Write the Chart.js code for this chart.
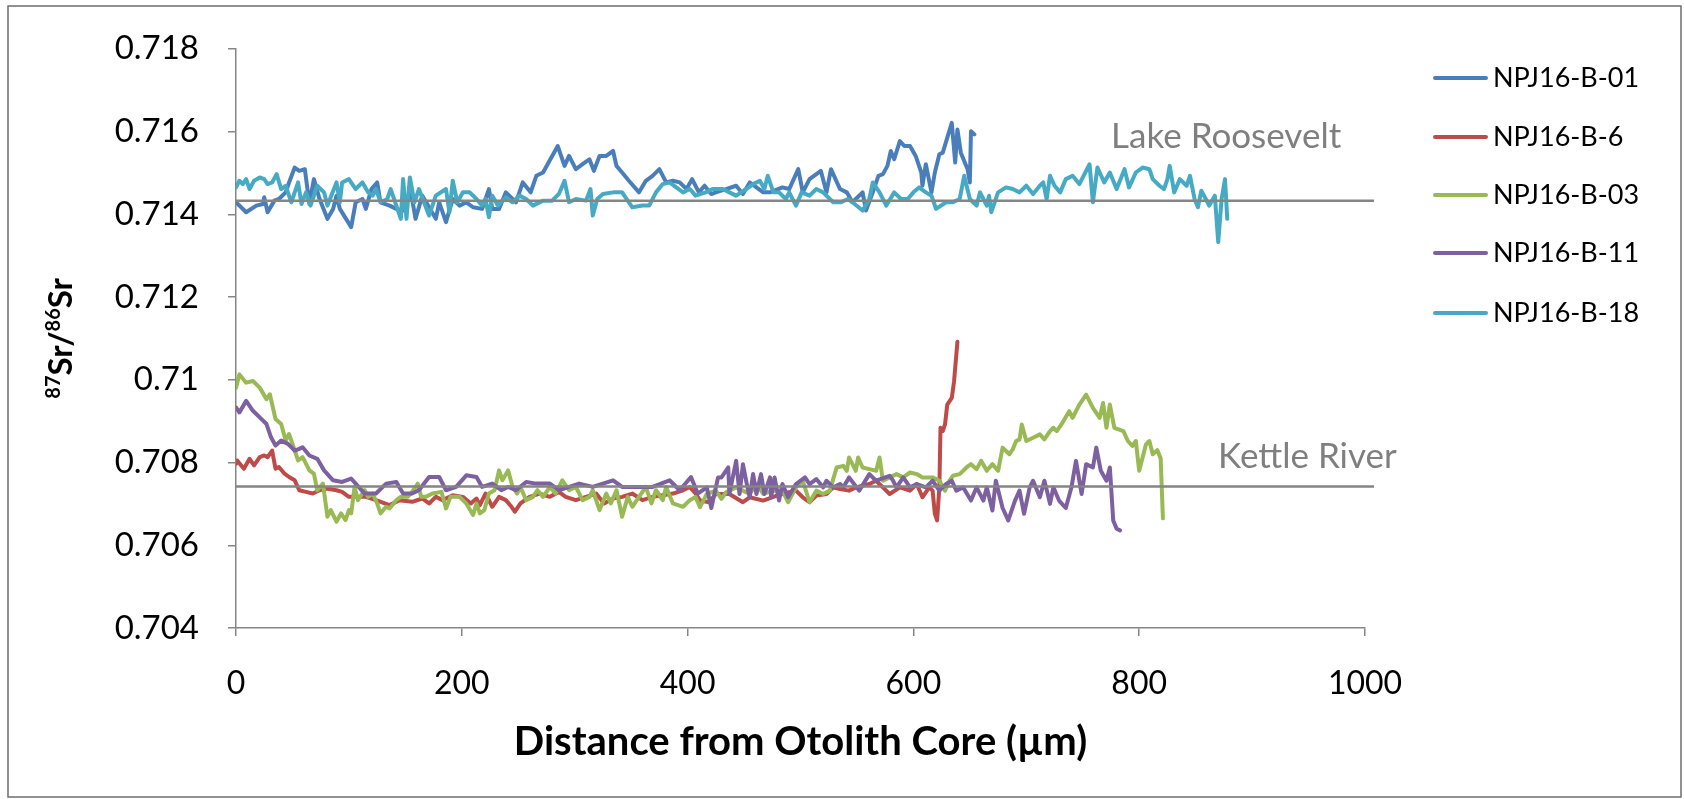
<!DOCTYPE html>
<html>
<head>
<meta charset="utf-8">
<script src="https://cdn.jsdelivr.net/npm/chart.js@4.4.0/dist/chart.umd.min.js"></script>
<style>
  body { margin: 0; background: #fff; }
  canvas { display: block; }
</style>
</head>
<body>
<canvas id="chart" width="1684" height="799"></canvas>
<script>
// series names (legend order)
const names = ["NPJ16-B-01", "NPJ16-B-6", "NPJ16-B-03", "NPJ16-B-11", "NPJ16-B-18"];

// NPJ16-B-01
const b01X = [0,9,18,24,25,28,34,38,44,47,52,56,61,65,69,74,81,86,89,92,102,106,112,115,120,125,128,136,142,148,155,159,165,171,177,180,186,192,198,204,210,218,224,227,233,239,248,254,261,266,272,276,285,291,295,301,307,313,317,322,328,334,337,342,348,357,363,369,375,381,387,393,399,404,410,415,421,425,434,443,449,455,467,473,484,490,498,502,508,518,523,527,535,541,546,555,558,564,569,573,577,580,583,588,592,597,602,607,608,611,616,619,623,626,634,637,639,642,648,650,651,654];
const b01Y = [0.71429,0.71405,0.71421,0.71425,0.71441,0.71405,0.71433,0.71437,0.71453,0.71477,0.71513,0.71505,0.71509,0.71425,0.71485,0.71437,0.71389,0.71413,0.71445,0.71413,0.71369,0.71429,0.71437,0.71413,0.71461,0.71477,0.71429,0.71421,0.71413,0.71409,0.71453,0.71389,0.71445,0.71417,0.71389,0.71429,0.71381,0.71437,0.71421,0.71429,0.71417,0.71413,0.71461,0.71413,0.71413,0.71453,0.71429,0.71477,0.71453,0.71493,0.71501,0.71521,0.71565,0.71517,0.71541,0.71509,0.71521,0.71533,0.71505,0.71541,0.71541,0.71553,0.71517,0.71501,0.71481,0.71453,0.71481,0.71493,0.71509,0.71477,0.71481,0.71477,0.71461,0.71485,0.71453,0.71469,0.71449,0.71453,0.71461,0.71469,0.71449,0.71477,0.71453,0.71453,0.71465,0.71461,0.71509,0.71453,0.71485,0.71505,0.71453,0.71509,0.71461,0.71453,0.71429,0.71453,0.71409,0.71453,0.71493,0.71497,0.71517,0.71553,0.71533,0.71577,0.71565,0.71565,0.71541,0.71501,0.71469,0.71521,0.71453,0.71501,0.71545,0.71549,0.71621,0.71525,0.71605,0.71549,0.71509,0.71477,0.71601,0.71593];

// NPJ16-B-6
const b06X = [0,1,7,12,16,21,25,28,32,35,38,43,47,52,56,62,68,74,80,89,94,100,109,115,124,136,145,156,165,171,177,183,192,201,208,213,216,221,227,233,239,244,247,252,260,269,278,286,292,301,310,319,326,334,342,351,360,369,378,387,396,402,407,411,419,425,437,449,455,467,479,490,496,502,508,514,523,529,535,543,549,561,567,573,579,588,597,603,608,614,617,619,621,623,624,626,628,630,634,636,639];
const b06Y = [0.70797,0.70805,0.70785,0.70809,0.70793,0.70813,0.70817,0.70813,0.70829,0.70785,0.70789,0.70773,0.70765,0.70757,0.70733,0.70729,0.70725,0.70733,0.70737,0.70733,0.70729,0.70717,0.70717,0.70717,0.70709,0.70697,0.70709,0.70705,0.70713,0.70701,0.70717,0.70709,0.70721,0.70717,0.70701,0.70713,0.70697,0.70725,0.70693,0.70717,0.70709,0.70693,0.70681,0.70701,0.70717,0.70725,0.70717,0.70729,0.70717,0.70709,0.70717,0.70725,0.70701,0.70713,0.70717,0.70725,0.70709,0.70717,0.70721,0.70725,0.70733,0.70741,0.70725,0.70708,0.70704,0.70724,0.70724,0.70704,0.70716,0.70708,0.7072,0.70728,0.70732,0.70716,0.70704,0.7072,0.70724,0.7074,0.70736,0.70732,0.7074,0.70748,0.70756,0.7074,0.70724,0.7074,0.70732,0.70748,0.70716,0.7074,0.70732,0.70676,0.7066,0.7074,0.70884,0.70876,0.70892,0.7094,0.70956,0.70996,0.71092];

// NPJ16-B-03
const b03X = [0,3,9,15,21,27,30,35,40,44,47,52,55,59,65,69,72,77,81,84,89,93,97,100,102,105,108,114,117,121,125,128,133,136,142,146,152,156,161,164,168,174,182,186,190,198,201,204,210,213,216,220,224,229,233,236,241,245,249,252,257,263,267,272,278,283,289,295,301,307,313,316,322,328,332,337,342,347,351,357,363,368,372,378,381,387,396,402,407,411,417,425,430,434,443,449,455,461,467,476,484,489,496,502,508,514,520,526,532,538,541,543,546,549,551,555,561,567,570,573,579,585,591,597,603,608,617,623,628,632,635,641,647,651,656,660,665,670,675,679,685,688,691,694,696,700,706,712,716,721,724,727,732,738,741,747,753,759,765,768,771,774,778,786,790,794,797,800,806,809,812,816,819,821];
const b03Y = [0.70981,0.71013,0.70993,0.70997,0.70981,0.70953,0.70965,0.70905,0.70893,0.70853,0.70869,0.70829,0.70805,0.70813,0.70781,0.70773,0.70733,0.70749,0.70669,0.70685,0.70657,0.70677,0.70661,0.70685,0.70677,0.70741,0.70709,0.70733,0.70717,0.70725,0.70701,0.70677,0.70693,0.70689,0.70709,0.70717,0.70717,0.70729,0.70749,0.70717,0.70717,0.70725,0.70729,0.70689,0.70717,0.70717,0.70709,0.70701,0.70673,0.70701,0.70677,0.70685,0.70725,0.70733,0.70781,0.70757,0.70781,0.70741,0.70725,0.70741,0.70709,0.70717,0.70733,0.70717,0.70741,0.70725,0.70757,0.70733,0.70741,0.70709,0.70717,0.70733,0.70685,0.70725,0.70701,0.70733,0.70669,0.70717,0.70693,0.70717,0.70741,0.70701,0.70733,0.70709,0.70741,0.70701,0.70693,0.70709,0.70717,0.70692,0.70724,0.70732,0.70712,0.70728,0.7074,0.70732,0.70724,0.70748,0.70724,0.70732,0.70732,0.70704,0.7074,0.70756,0.70704,0.70732,0.70724,0.70732,0.70788,0.70792,0.7078,0.70812,0.70796,0.7078,0.70812,0.70788,0.70784,0.7078,0.70812,0.70756,0.70764,0.70772,0.70764,0.70776,0.70772,0.70764,0.70764,0.70756,0.70732,0.70756,0.70768,0.70772,0.70788,0.70796,0.70784,0.70804,0.7078,0.70796,0.7078,0.70836,0.7082,0.70832,0.70852,0.70856,0.70892,0.70852,0.7086,0.70868,0.70856,0.70876,0.70884,0.70876,0.70896,0.70924,0.70908,0.7094,0.70964,0.70932,0.70908,0.70944,0.70884,0.7094,0.70884,0.70876,0.70852,0.7084,0.70852,0.7078,0.70844,0.70852,0.7082,0.7083,0.7081,0.70665];

// NPJ16-B-11
const b11X = [0,3,9,15,21,27,31,35,40,46,52,56,59,65,72,78,86,94,102,106,114,124,133,142,148,156,162,171,180,186,195,204,213,218,227,235,241,248,257,266,278,286,295,304,316,325,334,342,357,369,384,393,403,409,417,421,427,430,436,437,443,446,449,453,455,458,461,465,468,473,474,477,481,484,489,496,504,508,514,520,523,529,535,538,543,552,561,567,579,582,585,591,597,603,611,617,623,629,634,638,644,651,656,662,665,670,673,679,684,690,694,698,703,706,712,716,719,721,724,729,735,740,744,749,753,759,762,766,771,774,777,780,783];
const b11Y = [0.70933,0.70921,0.70949,0.70925,0.70909,0.70893,0.70861,0.70841,0.70853,0.70845,0.70829,0.70833,0.70837,0.70817,0.70809,0.70781,0.70757,0.70753,0.70761,0.70749,0.70725,0.70725,0.70749,0.70753,0.70725,0.70725,0.70733,0.70765,0.70765,0.70733,0.70741,0.70769,0.70765,0.70741,0.70749,0.70733,0.70741,0.70733,0.70753,0.70749,0.70749,0.70733,0.70741,0.70749,0.70741,0.70749,0.70757,0.70741,0.70741,0.70741,0.70757,0.70733,0.70765,0.70725,0.7074,0.7069,0.70764,0.70764,0.70788,0.70724,0.70804,0.70724,0.70796,0.7074,0.70716,0.70772,0.70724,0.70772,0.70724,0.70764,0.70716,0.70764,0.70708,0.70748,0.70716,0.70748,0.70764,0.70748,0.7076,0.7074,0.70756,0.7074,0.70748,0.7074,0.70764,0.70732,0.70772,0.70756,0.70768,0.70756,0.7074,0.70764,0.7074,0.70748,0.7074,0.70756,0.70732,0.70748,0.70756,0.70732,0.7074,0.70708,0.7074,0.70708,0.7074,0.70684,0.70756,0.7069,0.7066,0.70708,0.70732,0.70676,0.7074,0.70756,0.70716,0.70756,0.70724,0.707,0.7074,0.70708,0.7069,0.7074,0.70804,0.70724,0.70796,0.70788,0.70836,0.7078,0.70756,0.70788,0.7066,0.7064,0.70636];

// NPJ16-B-18
const b18X = [0,3,6,9,12,16,21,25,28,32,36,40,44,49,55,58,62,66,72,78,81,89,92,94,100,106,112,117,121,124,128,134,137,146,148,151,154,158,162,171,177,186,189,192,196,201,207,213,218,221,224,227,232,239,245,251,257,263,272,280,286,291,295,301,310,314,316,320,325,334,342,351,360,366,372,378,384,390,396,402,407,416,422,431,437,443,452,458,464,468,471,476,481,487,490,496,501,508,514,520,529,536,542,546,555,561,564,570,576,583,589,595,600,605,611,616,620,629,635,641,645,650,656,659,665,667,669,675,682,688,694,700,706,712,715,718,721,725,730,735,741,747,756,759,763,769,774,780,787,791,797,803,809,812,818,822,825,827,831,836,842,845,849,852,855,859,862,867,870,873,876,878];
const b18Y = [0.71465,0.71481,0.71473,0.71485,0.71461,0.71481,0.71489,0.71485,0.71473,0.71477,0.71497,0.71461,0.71469,0.71429,0.71477,0.71425,0.71453,0.71421,0.71469,0.71453,0.71421,0.71477,0.71429,0.71477,0.71485,0.71461,0.71477,0.71453,0.71445,0.71461,0.71429,0.71437,0.71461,0.71389,0.71485,0.71389,0.71489,0.71429,0.71461,0.71397,0.71445,0.71461,0.71405,0.71481,0.71429,0.71453,0.71453,0.71437,0.71421,0.71437,0.71393,0.71445,0.71421,0.71441,0.71429,0.71445,0.71437,0.71421,0.71433,0.71433,0.71449,0.71481,0.71429,0.71437,0.71433,0.71461,0.71397,0.71437,0.71449,0.71453,0.71453,0.71417,0.71421,0.71421,0.71453,0.71473,0.71477,0.71465,0.71453,0.71461,0.71445,0.71453,0.71461,0.71461,0.71453,0.71445,0.71461,0.71473,0.71481,0.71461,0.71493,0.71453,0.71453,0.71437,0.71453,0.71421,0.71453,0.71445,0.71461,0.71453,0.71429,0.71429,0.71437,0.71429,0.71409,0.71437,0.71477,0.71453,0.71421,0.71453,0.71437,0.71437,0.71453,0.71465,0.71453,0.71445,0.71413,0.71429,0.71429,0.71437,0.71493,0.71437,0.71421,0.71453,0.71421,0.71445,0.71405,0.71453,0.71465,0.71461,0.71453,0.71469,0.71449,0.71469,0.71477,0.71437,0.71493,0.71469,0.71453,0.71485,0.71493,0.71473,0.71521,0.71429,0.71513,0.71477,0.71501,0.71461,0.71509,0.71465,0.71501,0.71513,0.71509,0.71485,0.71469,0.71461,0.71485,0.71517,0.71453,0.71485,0.71469,0.71493,0.71437,0.71417,0.71457,0.71437,0.71421,0.71445,0.71333,0.71437,0.71485,0.71389];

// reference levels
const refX = [0, 1008];
const lakeY = 0.71433;
const kettleY = 0.70742;
const refLabels = [
  { text: "Lake Roosevelt", x: 877, y: 0.7156 },
  { text: "Kettle River", x: 949, y: 0.70787 }
];

const colors = ["#4a7ebb", "#be4b48", "#98b954", "#7d60a0", "#46aac5"];
const refColor = "#858585";

function pts(xs, ys) {
  return xs.map(function (x, i) {
    return { x: x, y: ys[i] };
  });
}

const seriesX = [b01X, b06X, b03X, b11X, b18X];
const seriesY = [b01Y, b06Y, b03Y, b11Y, b18Y];

const datasets = names.map(function (n, i) {
  return {
    label: n,
    data: pts(seriesX[i], seriesY[i]),
    borderColor: colors[i],
    borderWidth: 4,
    pointRadius: 0,
    tension: 0,
    borderJoinStyle: "round",
    borderCapStyle: "round",
    order: 5 - i,
  };
});
[lakeY, kettleY].forEach(function (v) {
  datasets.push({
    label: "ref",
    data: pts(refX, [v, v]),
    borderColor: refColor,
    borderWidth: 2.5,
    pointRadius: 0,
    clip: false,
    order: 0,
  });
});

const decor = {
  id: "decor",
  afterDraw: function (chart) {
    const ctx = chart.ctx;
    const xs = chart.scales.x, ys = chart.scales.y;
    ctx.save();
    // outer frame
    ctx.strokeStyle = "#6e6e6e";
    ctx.lineWidth = 1.5;
    ctx.strokeRect(8, 6, 1673, 791);

    // reference labels
    ctx.fillStyle = "#7f7f7f";
    ctx.font = "35px Lato";
    ctx.textAlign = "center";
    ctx.textBaseline = "alphabetic";
    refLabels.forEach(function (l) {
      ctx.fillText(l.text, xs.getPixelForValue(l.x), ys.getPixelForValue(l.y));
    });

    // legend
    ctx.font = "27px Lato";
    ctx.textAlign = "left";
    ctx.textBaseline = "middle";
    const rows = [78, 137, 195, 253, 313];
    names.forEach(function (n, i) {
      ctx.strokeStyle = colors[i];
      ctx.lineWidth = 4;
      ctx.lineCap = "round";
      ctx.beginPath();
      ctx.moveTo(1435, rows[i]);
      ctx.lineTo(1486, rows[i]);
      ctx.stroke();
      ctx.fillStyle = "#000";
      ctx.fillText(n, 1493, rows[i]);
    });

    // y axis title with superscripts
    const parts = [["87", true], ["Sr/", false], ["86", true], ["Sr", false]];
    const big = "bold 33px Lato", small = "bold 20px Lato";
    let w = 0;
    parts.forEach(function (p) {
      ctx.font = p[1] ? small : big;
      w += ctx.measureText(p[0]).width;
    });
    ctx.translate(72, (ys.top + ys.bottom) / 2);
    ctx.rotate(-Math.PI / 2);
    ctx.textAlign = "left";
    ctx.textBaseline = "alphabetic";
    ctx.fillStyle = "#000";
    let cx = -w / 2;
    parts.forEach(function (p) {
      ctx.font = p[1] ? small : big;
      ctx.fillText(p[0], cx, p[1] ? -12 : 0);
      cx += ctx.measureText(p[0]).width;
    });
    ctx.restore();
  },
};

Chart.defaults.font.family = "Lato";
Chart.defaults.color = "#000";

new Chart(document.getElementById("chart"), {
  type: "line",
  data: { datasets: datasets },
  options: {
    responsive: false,
    animation: false,
    devicePixelRatio: 1,
    layout: { padding: { left: 0, right: 319, top: 45, bottom: 0 } },
    plugins: { legend: { display: false }, tooltip: { enabled: false } },
    scales: {
      x: {
        type: "linear",
        min: 0,
        max: 1000,
        ticks: {
          stepSize: 200,
          font: { size: 32 },
          padding: 28,
          maxRotation: 0,
          callback: function (v) { return String(v); },
        },
        grid: { drawOnChartArea: false, color: "#868686", tickLength: 8, lineWidth: 1.5 },
        border: { color: "#868686", width: 1.5 },
        title: {
          display: true,
          text: "Distance from Otolith Core (µm)",
          font: { size: 40, weight: "bold" },
          padding: { top: 0, bottom: 33 },
        },
        afterFit: function (s) { s.height = 171; },
      },
      y: {
        min: 0.704,
        max: 0.718,
        ticks: {
          stepSize: 0.002,
          font: { size: 33 },
          padding: 29,
          callback: function (v) { return String(parseFloat(v.toFixed(3))); },
        },
        grid: { drawOnChartArea: false, color: "#868686", tickLength: 8, lineWidth: 1.5 },
        border: { color: "#868686", width: 1.5 },
        afterFit: function (s) { s.width = 236; },
      },
    },
  },
  plugins: [decor],
});
</script>
</body>
</html>
